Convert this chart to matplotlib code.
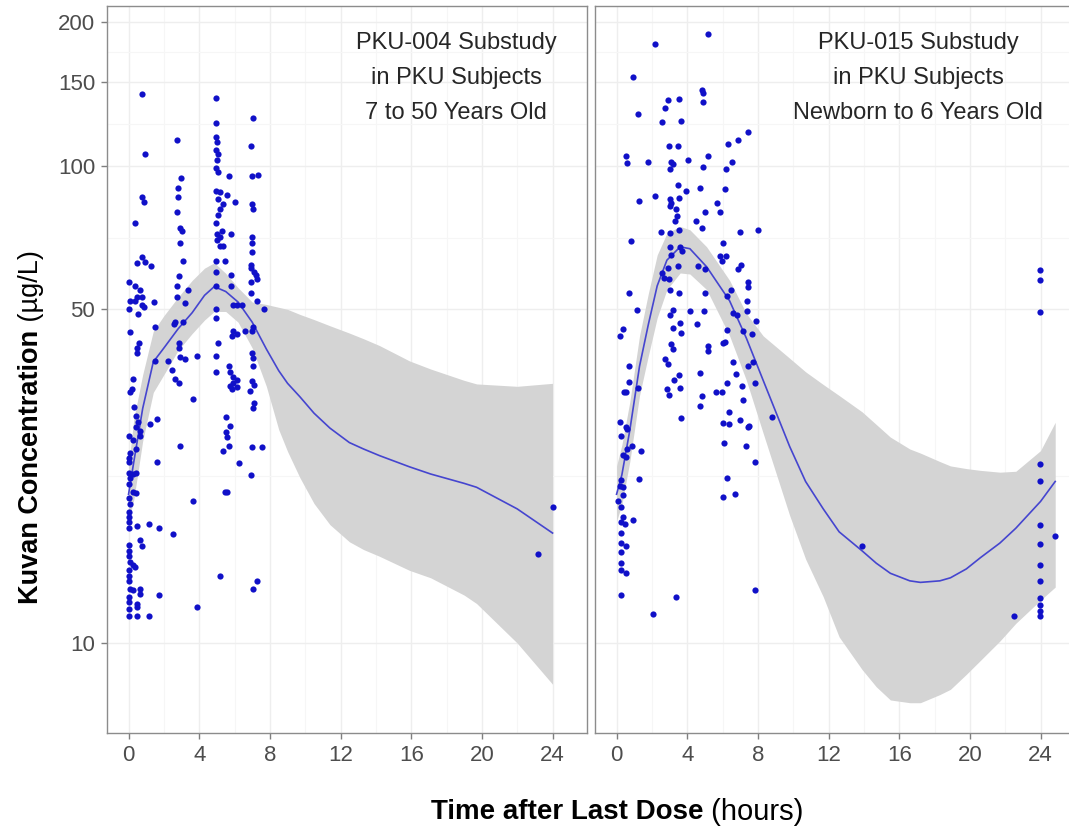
import numpy as np
import matplotlib
matplotlib.use("Agg")
import matplotlib.pyplot as plt
from matplotlib import font_manager
from matplotlib.ticker import NullFormatter

# ---- data ----
# PKU-004 substudy (7 to 50 years)
left_t = [0.76, 4.96, 7.07, 4.96, 2.74, 0.94, 4.96, 5.0, 4.96, 5.05, 5.0, 6.92, 4.96, 5.05,
          5.66, 6.98, 7.35, 2.96, 2.81, 2.81, 4.96, 5.19, 5.57, 5.09, 5.37, 6.04, 0.76, 0.85,
          6.98, 7.07, 2.74, 5.19, 5.09, 0.38, 4.96, 2.92, 3.02, 5.0, 5.15, 5.28, 5.79, 5.0,
          5.19, 5.34, 6.98, 6.98, 6.98, 2.92, 0.76, 0.48, 0.94, 1.28, 4.96, 5.47, 3.08, 6.92,
          6.92, 7.11, 7.22, 7.26, 2.83, 2.74, 2.77, 4.96, 4.96, 5.79, 5.79, 0.0, 0.34, 0.62,
          0.48, 0.76, 0.1, 0.34, 6.92, 6.92, 3.34, 1.45, 0.0, 0.53, 0.85, 0.76, 3.21, 3.08,
          2.64, 2.55, 4.96, 4.96, 5.94, 6.13, 6.41, 7.26, 7.68, 1.51, 0.06, 5.94, 5.85, 6.13,
          6.6, 7.07, 6.98, 0.57, 2.83, 5.09, 0.48, 0.48, 1.51, 2.26, 2.83, 2.92, 3.21, 3.9,
          4.96, 4.96, 5.66, 5.75, 5.94, 6.13, 5.94, 5.75, 5.85, 6.13, 6.98, 7.07, 7.07, 6.98,
          7.11, 6.88, 7.11, 7.04, 2.45, 2.64, 2.83, 0.27, 0.19, 0.06, 3.64, 0.32, 0.44, 0.51,
          0.44, 0.66, 0.62, 0.0, 0.28, 0.44, 0.06, 0.0, 0.0, 0.0, 0.28, 0.44, 0.06, 0.0, 0.28,
          0.44, 0.0, 0.06, 1.19, 1.61, 2.92, 1.61, 5.53, 5.75, 5.53, 5.57, 5.66, 5.37, 6.98,
          7.54, 6.28, 6.92, 5.47, 5.57, 3.64, 0.0, 0.0, 0.0, 0.0, 0.48, 1.13, 1.7, 2.51, 0.66,
          0.76, 0.0, 0.0, 0.0, 0.06, 0.28, 0.38, 0.0, 0.0, 0.0, 0.06, 0.28, 0.66, 0.62, 0.0,
          0.0, 0.48, 0.0, 0.48, 0.0, 0.48, 1.13, 1.7, 3.9, 5.19, 7.26, 7.07, 24.0, 23.2]
left_v = [141.6, 138.9, 126, 123, 113, 106, 115, 112, 108, 106, 103, 110, 99, 97,
          95, 95, 95.5, 94, 90, 86, 88.7, 88, 87, 85, 83, 84, 86, 84,
          83, 81, 80, 81, 79, 76, 76, 74, 73, 72, 71, 73, 72, 70,
          68, 68, 71, 69, 66, 69, 64.4, 62.6, 62.9, 61.6, 63, 63, 63, 62,
          61, 60, 59, 58, 58.6, 56, 53, 60, 56, 59, 56, 57, 56, 55,
          53, 53, 52, 52, 57, 54, 55, 51.8, 50, 49, 50.5, 51, 51.5, 47,
          47, 46.5, 50, 48, 51, 51, 51, 52, 50, 46, 44.9, 45, 44, 44.5,
          45, 46, 45, 42.6, 42.6, 42.6, 41.6, 40.6, 39, 39, 41.6, 39.8, 39.4, 39.9,
          40, 37, 38, 37, 36, 35.6, 35, 34.6, 34, 34.4, 40.6, 39.6, 38, 35.4,
          34.7, 33.8, 31.8, 31, 37.3, 35.7, 35, 35.8, 34, 33.5, 32.4, 31.2, 29.9, 29.1,
          28.4, 27.8, 27.2, 27.2, 26.6, 25.5, 25.0, 24.4, 23.9, 22.7, 22.6, 22.7, 22.2, 21.5, 20.7,
          20.6, 20.1, 19.6, 28.8, 29.4, 25.9, 24.0, 29.7, 28.5, 27.7, 27, 25.9, 25.3, 25.8,
          25.7, 23.8, 22.5, 20.7, 20.7, 19.8, 18.8, 18.4, 17.9, 17.4, 17.6, 17.8, 17.4, 16.9, 16.4,
          16.0, 16.05, 15.6, 15.2, 14.8, 14.6, 14.4, 14.2, 13.8, 13.5, 13.0, 12.9, 13.0, 12.7, 12.5,
          12.2, 12.1, 11.8, 11.9, 11.4, 11.4, 11.4, 12.6, 11.9, 13.8, 13.5, 13.0, 19.3, 15.4]

# loess fit and 95% band, PKU-004
left_fit_t = [0, 0.3, 0.8, 1.4, 2.0, 2.8, 3.6, 4.3, 4.85, 5.5, 6.2, 7.0, 7.8, 8.5, 9.0, 9.7,
              10.5, 11.4, 12.5, 13.3, 14.2, 15.9, 17.1, 19.0, 19.7, 22.0, 24.0]
left_fit = [20.5, 24.0, 31.0, 38.8, 41.5, 45.5, 49.2, 53.5, 55.8, 54.5, 51.8, 47.0, 41.3, 37.2,
            35.0, 32.8, 30.3, 28.2, 26.3, 25.5, 24.7, 23.4, 22.6, 21.6, 21.2, 19.1, 17.0]
left_hi = [23.5, 29.5, 36.5, 45.0, 48.5, 53.0, 57.5, 61.0, 62.6, 59.5, 55.5, 51.8, 51.2, 50.5,
           50.0, 48.8, 47.6, 46.2, 44.6, 43.4, 42.0, 39.0, 37.5, 35.5, 34.9, 34.5, 35.0]
left_lo = [18.0, 20.0, 26.5, 33.5, 36.5, 41.0, 44.5, 47.5, 49.5, 49.5, 47.0, 41.5, 34.5, 28.0,
           25.2, 22.2, 19.6, 17.7, 16.3, 15.7, 15.2, 14.2, 13.7, 12.6, 12.1, 10.0, 8.2]

# PKU-015 substudy (newborn to 6 years)
right_t = [5.18, 2.17, 0.94, 1.22, 2.92, 3.54, 2.73, 2.6, 3.62, 4.81, 4.9, 4.9, 7.44, 6.88,
           6.31, 2.98, 3.48, 0.53, 0.6, 1.79, 3.11, 3.2, 3.01, 4.05, 5.18, 4.9, 6.56, 6.18,
           3.48, 3.92, 4.71, 6.12, 1.28, 2.17, 3.01, 3.11, 3.54, 3.01, 5.66, 5.88, 4.99, 3.35,
           3.43, 3.3, 4.52, 4.81, 0.79, 2.49, 3.01, 3.54, 7.01, 8.01, 6.03, 3.01, 3.58, 3.68,
           3.11, 5.84, 6.18, 5.99, 2.55, 2.92, 3.48, 4.62, 4.99, 7.07, 6.88, 2.68, 2.98, 7.44,
           7.44, 7.39, 0.71, 3.01, 3.54, 4.99, 6.26, 6.5, 1.17, 3.17, 3.05, 4.15, 4.94, 6.6,
           6.79, 7.39, 7.92, 3.58, 3.17, 4.56, 0.37, 0.19, 6.26, 7.16, 7.69, 3.62, 6.12, 6.03,
           3.11, 5.18, 3.17, 5.18, 0.71, 0.71, 2.73, 2.92, 6.6, 7.73, 7.45, 6.75, 4.71, 3.54,
           3.24, 3.58, 2.86, 2.98, 4.81, 4.71, 6.26, 7.08, 7.17, 7.82, 5.62, 5.99, 1.22, 0.41,
           0.53, 3.62, 6.37, 8.82, 6.03, 6.37, 7.01, 7.5, 7.45, 7.35, 6.07, 7.82, 6.26, 6.03,
           6.69, 0.19, 0.53, 0.6, 0.28, 0.9, 0.57, 0.37, 0.53, 1.36, 1.28, 0.28, 0.19, 0.37,
           0.37, 0.1, 0.28, 0.37, 0.94, 0.28, 0.47, 0.28, 0.28, 0.53, 0.23, 0.28, 0.23, 0.53,
           0.28, 3.39, 2.07, 7.82, 13.89, 23.95, 23.95, 23.95, 23.95, 23.95, 23.95, 23.95,
           23.95, 23.95, 23.95, 23.95, 23.95, 23.95, 24.83, 22.47]
right_v = [189, 180, 153, 128, 137, 138, 132, 123.6, 124, 144, 142, 136, 117.4, 113,
           111, 110, 110, 104.6, 101.4, 102, 102, 100.6, 98.6, 102.6, 105, 99.5, 102, 98.6,
           91.2, 88.6, 90, 89.3, 84.5, 86.2, 85.1, 83.5, 85.5, 82.4, 83.7, 80.1, 79.9, 81,
           78.5, 76.5, 76.5, 74.2, 69.7, 72.6, 72.3, 73.4, 72.6, 73.4, 69, 67.6, 67.7, 66.4,
           65, 64.6, 64.6, 63, 59.6, 61, 61.6, 61.6, 60.8, 61.9, 60.8, 58.1, 57.8, 57,
           55.6, 52.1, 54, 54.9, 54, 54, 53.4, 54.9, 49.9, 49.9, 48.7, 49.5, 49.7, 49.1,
           48.7, 49.5, 47.2, 46.8, 45.7, 46.6, 45.5, 43.9, 45.3, 45.0, 44.3, 44.6, 42.8, 42.6,
           42.4, 42.0, 41.3, 41, 38.0, 35.3, 39.4, 38.4, 38.7, 38.7, 38.0, 36.6, 36.8, 36.4,
           35.5, 34.3, 34.1, 33.1, 32.9, 31.4, 35.0, 34.5, 32.3, 35.0, 33.6, 33.6, 34.2, 33.6,
           33.6, 29.6, 30.5, 29.7, 28.9, 28.7, 29.3, 28.5, 28.3, 25.9, 26.2, 23.9, 22.2, 20.2,
           20.5, 29.0, 28.4, 28.1, 27.2, 25.9, 25.5, 24.8, 24.5, 25.3, 22.1, 22.0, 21.3, 21.2,
           20.4, 19.8, 19.3, 18.4, 18.1, 17.9, 17.8, 17.0, 16.2, 16.0, 15.5, 14.7, 14.2, 14.0,
           12.6, 12.5, 11.5, 12.9, 16.0, 60.5, 57.6, 49.4, 23.7, 21.9, 17.7, 16.1,
           14.6, 13.5, 12.4, 12.0, 11.7, 11.4, 16.8, 11.4]

# loess fit and 95% band, PKU-015
right_fit_t = [0, 0.3, 0.75, 1.3, 1.8, 2.3, 2.85, 3.6, 4.15, 5.1, 6.4, 7.35, 8.3, 9.8, 10.7,
               11.7, 12.6, 13.9, 14.7, 15.5, 16.6, 17.2, 18.3, 18.9, 19.8, 20.6, 21.7, 22.6,
               24.0, 24.83]
right_fit = [20.5, 22.5, 27.9, 38.0, 46.5, 56.0, 63.4, 67.6, 67.0, 61.4, 52.1, 43.5, 35.5, 25.8,
             21.8, 19.1, 17.1, 15.6, 14.7, 14.0, 13.5, 13.4, 13.5, 13.7, 14.3, 15.1, 16.2, 17.4,
             19.8, 21.8]
right_hi = [23.5, 26.0, 32.0, 44.0, 54.0, 65.0, 72.2, 74.6, 73.4, 67.6, 57.5, 49.0, 44.0, 39.5,
            37.0, 34.8, 33.0, 30.5, 28.7, 27.0, 25.5, 25.0, 24.0, 23.5, 23.2, 23.0, 22.8, 22.9,
            25.3, 29.0]
right_lo = [18.0, 19.5, 24.0, 33.0, 40.0, 48.0, 55.0, 59.6, 59.3, 55.0, 44.0, 35.5, 27.5, 18.5,
            15.0, 12.5, 10.3, 8.8, 8.1, 7.6, 7.5, 7.5, 7.8, 8.0, 8.6, 9.2, 10.1, 11.0,
            12.3, 13.1]

panel_text = [["PKU-004 Substudy", "in PKU Subjects", "7 to 50 Years Old"],
              ["PKU-015 Substudy", "in PKU Subjects", "Newborn to 6 Years Old"]]
x_ticks = [0, 4, 8, 12, 16, 20, 24]
y_ticks = [10, 50, 100, 150, 200]

# ---- fonts ----
names = {f.name for f in font_manager.fontManager.ttflist}
base_font = "Liberation Sans" if "Liberation Sans" in names else "DejaVu Sans"
narrow_font = "Liberation Sans Narrow" if "Liberation Sans Narrow" in names else base_font
plt.rcParams["font.family"] = [base_font, "DejaVu Sans"]

W, H = 1069, 839
fig = plt.figure(figsize=(W / 100, H / 100), dpi=100)

def px_box(x0, x1, y_top, y_bot):
    return [x0 / W, 1 - y_bot / H, (x1 - x0) / W, (y_bot - y_top) / H]

ax1 = fig.add_axes(px_box(107, 587, 6, 732.7))
ax2 = fig.add_axes(px_box(595, 1075, 6, 732.7))

pt_col = "#1010C8"
line_col = "#4545CF"
band_col = "#D4D4D4"
tick_col = "#4D4D4D"

data = [(ax1, left_t, left_v, left_fit_t, left_fit, left_lo, left_hi),
        (ax2, right_t, right_v, right_fit_t, right_fit, right_lo, right_hi)]

minor_y = [np.sqrt(a * b) for a, b in zip(y_ticks[:-1], y_ticks[1:])]

for i, (ax, t, v, ft, fv, lo, hi) in enumerate(data):
    ax.set_yscale("log")
    ax.set_xlim(-1.22, 25.95)
    ax.set_ylim(6.49, 216)
    ax.fill_between(ft, lo, hi, color=band_col, lw=0, zorder=1)
    ax.plot(ft, fv, color=line_col, lw=1.2, zorder=3, solid_joinstyle="round")
    ax.scatter(t, v, s=20, color=pt_col, lw=0, zorder=4)

    ax.set_xticks(x_ticks)
    ax.set_xticks([2, 6, 10, 14, 18, 22], minor=True)
    ax.set_yticks(y_ticks)
    ax.set_yticks(minor_y, minor=True)
    ax.yaxis.set_minor_formatter(NullFormatter())
    ax.grid(True, which="major", color="#EEEEEE", lw=1.0, zorder=0)
    ax.grid(True, which="minor", color="#F6F6F6", lw=0.8, zorder=0)
    ax.set_axisbelow(True)
    ax.tick_params(which="minor", length=0)
    ax.tick_params(which="major", length=4.5, width=1, color="#7F7F7F",
                   labelcolor=tick_col, labelsize=16, pad=4)
    ax.set_xticklabels([str(x) for x in x_ticks])
    if i == 0:
        ax.set_yticklabels([str(y) for y in y_ticks])
    else:
        ax.tick_params(axis="y", left=False, labelleft=False)
    for s in ax.spines.values():
        s.set_color("#8C8C8C")
        s.set_linewidth(1.0)

# panel captions (pixel centres)
cap_x = [456, 918]
cap_y = [43, 78, 113]
for k in range(2):
    for j, line in enumerate(panel_text[k]):
        fig.text(cap_x[k] / W, 1 - cap_y[j] / H, line, ha="center", va="center",
                 fontsize=17, color="#262626")

# axis titles, bold part + normal part
fig.canvas.draw()
r = fig.canvas.get_renderer()

xb = fig.text(0, 1 - 812 / H, "Time after Last Dose", fontsize=20, weight="bold",
              family=[narrow_font, "DejaVu Sans"], va="center", ha="left", color="black")
xn = fig.text(0, 1 - 812 / H, " (hours)", fontsize=21,
              family=[narrow_font, "DejaVu Sans"], va="center", ha="left", color="black")
w1 = xb.get_window_extent(r).width
w2 = xn.get_window_extent(r).width
x0 = 617 - (w1 + w2) / 2
xb.set_x(x0 / W)
xn.set_x((x0 + w1) / W)

yb = fig.text(31 / W, 0, "Kuvan Concentration", fontsize=19.5, weight="bold", rotation=90,
              family=[narrow_font, "DejaVu Sans"], ha="center", va="bottom", color="black")
yn = fig.text(31 / W, 0, " (\u00b5g/L)", fontsize=19.5, rotation=90,
              family=[narrow_font, "DejaVu Sans"], ha="center", va="bottom", color="black")
h1 = yb.get_window_extent(r).height
h2 = yn.get_window_extent(r).height
y0 = (H - 427) - (h1 + h2) / 2
yb.set_y(y0 / H)
yn.set_y((y0 + h1) / H)

fig.savefig("out.png", dpi=100)
